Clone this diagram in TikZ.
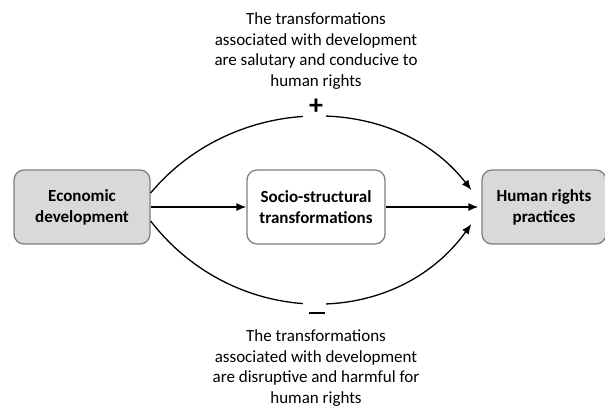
\documentclass[tikz,border=0pt]{standalone}
\usepackage{fontspec}
\setmainfont{Carlito}
\usetikzlibrary{arrows.meta,positioning}
\definecolor{boxfill}{HTML}{D9D9D9}
\definecolor{boxline}{HTML}{7F7F7F}
\tikzset{
  x=1pt, y=1pt,
  box/.style={draw=boxline, line width=1.3pt, rounded corners=10pt,
    minimum height=74pt, align=center, font=\fontsize{17}{21}\selectfont\bfseries},
  shaded/.style={box, fill=boxfill},
  plain/.style={box, fill=white},
  link/.style={line width=1.3pt, -{Latex[length=10pt,width=8pt]}},
  note/.style={align=center, font=\fontsize{17}{20.7}\selectfont},
  gap/.style={fill=white, inner sep=0pt, minimum width=23pt, minimum height=9pt},
  sign/.style={font=\fontsize{28}{28}\selectfont\bfseries, inner sep=0pt}
}
\begin{document}
\begin{tikzpicture}
\useasboundingbox (0,0) rectangle (605,-407);

% boxes
\node[shaded, minimum width=136pt] (econ) at (82,-207) {Economic\\development};
\node[plain, minimum width=138pt] (socio) at (316,-207) {Socio-structural\\transformations};
\node[shaded, minimum width=124pt] (hr) at (544,-207) {Human rights\\practices};

% direct chain
\draw[link] (econ) -- (socio);
\draw[link, shorten >=3pt] (socio) -- (hr);

% end points of the two bent paths
\coordinate (tA) at ([yshift=14pt]econ.east);
\coordinate (tB) at ([xshift=-10pt,yshift=17pt]hr.west);
\coordinate (bA) at ([yshift=-14pt]econ.east);
\coordinate (bB) at ([xshift=-10pt,yshift=-17pt]hr.west);

% positive path
\draw[link] (tA) .. controls (235,-92) and (395,-92) .. (tB)
  node[pos=0.5, gap] (pgap) {};
\node[sign] (plus) at ([xshift=2pt,yshift=10pt]pgap.center) {+};

% negative path
\draw[link] (bA) .. controls (235,-330) and (395,-330) .. (bB)
  node[pos=0.5, gap] (mgap) {};
\node[sign] (minus) at ([xshift=3pt,yshift=-10pt]mgap.center) {\rule{16pt}{2.2pt}};

% captions
\node[note] (top) at (316,-51) {The transformations\\associated with development\\are salutary and conducive to\\human rights};
\node[note] (bottom) at (316,-368) {The transformations\\associated with development\\are disruptive and harmful for\\human rights};
\end{tikzpicture}
\end{document}
